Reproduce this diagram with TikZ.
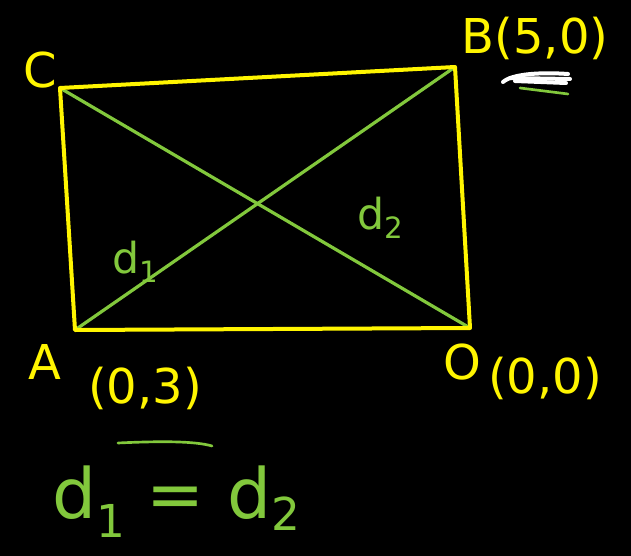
\documentclass[tikz,border=0pt]{standalone}
\usepackage{fontspec}
\setmainfont{DejaVu Sans}
\definecolor{hy}{RGB}{255,245,0}
\definecolor{hg}{RGB}{130,200,60}
\begin{document}
\begin{tikzpicture}[x=0.75pt,y=-0.75pt,
  edge/.style={draw=hy,line width=3pt,line cap=round,line join=round},
  diag/.style={draw=hg,line width=2.4pt,line cap=round},
  ylab/.style={text=hy,inner sep=0pt,font=\fontsize{36}{38}\selectfont},
  glab/.style={text=hg,inner sep=0pt,font=\fontsize{32}{34}\selectfont}]
\fill[black] (0,0) rectangle (631,556);
\useasboundingbox (0,0) rectangle (631,556);
% corners
\coordinate (C) at (60,88);
\coordinate (B) at (455,67);
\coordinate (O) at (470,328);
\coordinate (A) at (75,330);
% diagonals
\draw[diag] (C) -- (O);
\draw[diag] (A) -- (B);
% rectangle
\draw[edge] (C) -- (B) -- (O) -- (A) -- cycle;
% labels
\node[ylab] (lC) at (40,70) {C};
\node[ylab] (lB) at (535,38) {B(5,0)};
\draw[white,line width=3pt,line cap=round] (503,82) .. controls (512,74) and (540,72) .. (568,74);
\draw[white,line width=3pt,line cap=round] (510,78) -- (570,79);
\draw[white,line width=3pt,line cap=round] (515,81) -- (566,83);
\draw[hg,line width=2pt,line cap=round] (520,88) -- (568,94);
\node[ylab] (lA) at (45,362) {A};
\node[ylab] (lA2) at (145,388) {(0,3)};
\node[ylab] (lO) at (462,362) {O};
\node[ylab] (lO2) at (545,378) {(0,0)};
\node[glab] (d1) at (135,262) {d\raisebox{-0.4ex}{\fontsize{22}{24}\selectfont 1}};
\node[glab] (d2) at (380,218) {d\raisebox{-0.4ex}{\fontsize{22}{24}\selectfont 2}};
\node[glab,font=\fontsize{52}{56}\selectfont] (eq) at (176,502) {d\raisebox{-0.5ex}{\fontsize{34}{36}\selectfont 1} = d\raisebox{-0.3ex}{\fontsize{34}{36}\selectfont 2}};
\draw[hg,line width=2pt,line cap=round] (118,443) .. controls (160,441) and (195,441) .. (212,446);
\end{tikzpicture}
\end{document}
